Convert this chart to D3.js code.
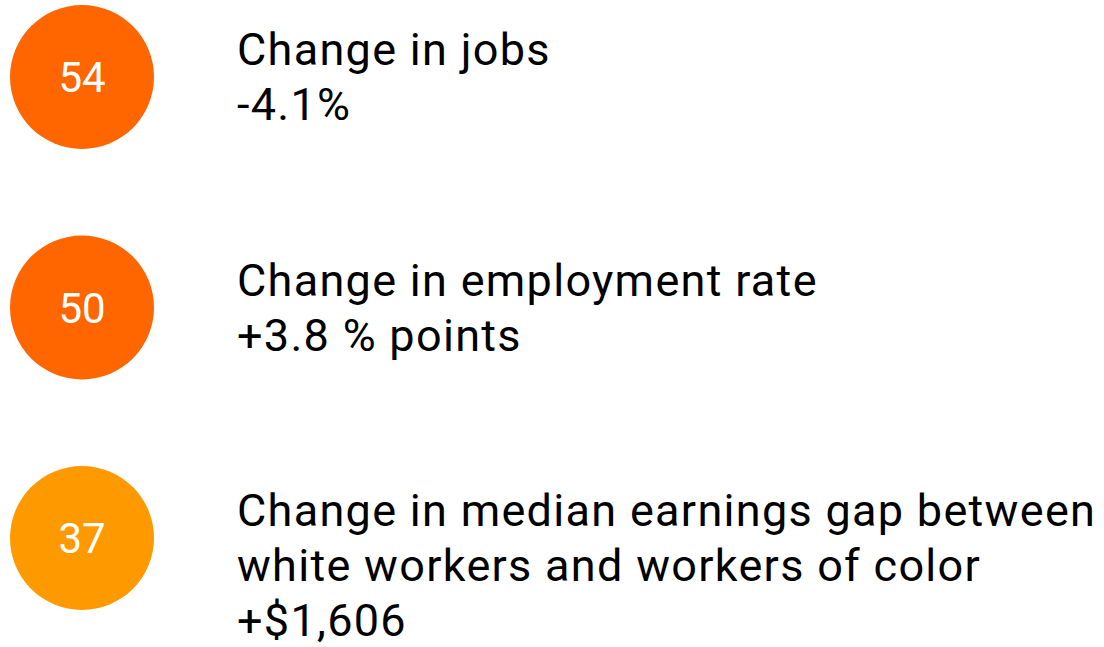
<!DOCTYPE html>
<html>
<head>
<meta charset="utf-8">
<script src="https://cdn.jsdelivr.net/npm/d3@7"></script>
<style>
  html, body { margin: 0; padding: 0; background: #fff; }
  svg { display: block; font-family: Roboto, sans-serif; }
</style>
</head>
<body>
<div id="chart"></div>
<script>
// ranks shown in the circles
const ranks = [54, 50, 37];
// label lines for each row
const labels = [
  ["Change in jobs"],
  ["Change in employment rate"],
  ["Change in median earnings gap between", "white workers and workers of color"]
];
const values = ["-4.1%", "+3.8 % points", "+$1,606"];
const colors = ["#ff6600", "#ff6600", "#ff9900"];

const width = 1104;
const height = 647;

const svg = d3.select("#chart")
  .append("svg")
  .attr("width", width)
  .attr("height", height);

const y = d3.scaleLinear().domain([0, ranks.length - 1]).range([77, 538]);
const r = 72;
const cx = 82;
const textX = 237;
const lineH = 55;

const rows = svg.selectAll("g.row")
  .data(ranks)
  .enter()
  .append("g")
  .attr("class", "row")
  .attr("transform", (d, i) => `translate(0,${y(i)})`);

rows.append("circle")
  .attr("cx", cx)
  .attr("cy", 0)
  .attr("r", r)
  .attr("fill", (d, i) => colors[i]);

rows.append("text")
  .attr("x", cx)
  .attr("y", 0)
  .attr("dy", "0.36em")
  .attr("text-anchor", "middle")
  .attr("fill", "#fff")
  .attr("font-size", 42)
  .text(d => d);

rows.each(function (d, i) {
  const g = d3.select(this);
  const lines = labels[i].concat([values[i]]);
  g.selectAll("text.lbl")
    .data(lines)
    .enter()
    .append("text")
    .attr("class", "lbl")
    .attr("x", textX)
    .attr("y", (t, j) => -12 + j * lineH)
    .attr("fill", "#000")
    .attr("font-size", 45)
    .attr("letter-spacing", 1.3)
    .text(t => t);
});
</script>
</body>
</html>
